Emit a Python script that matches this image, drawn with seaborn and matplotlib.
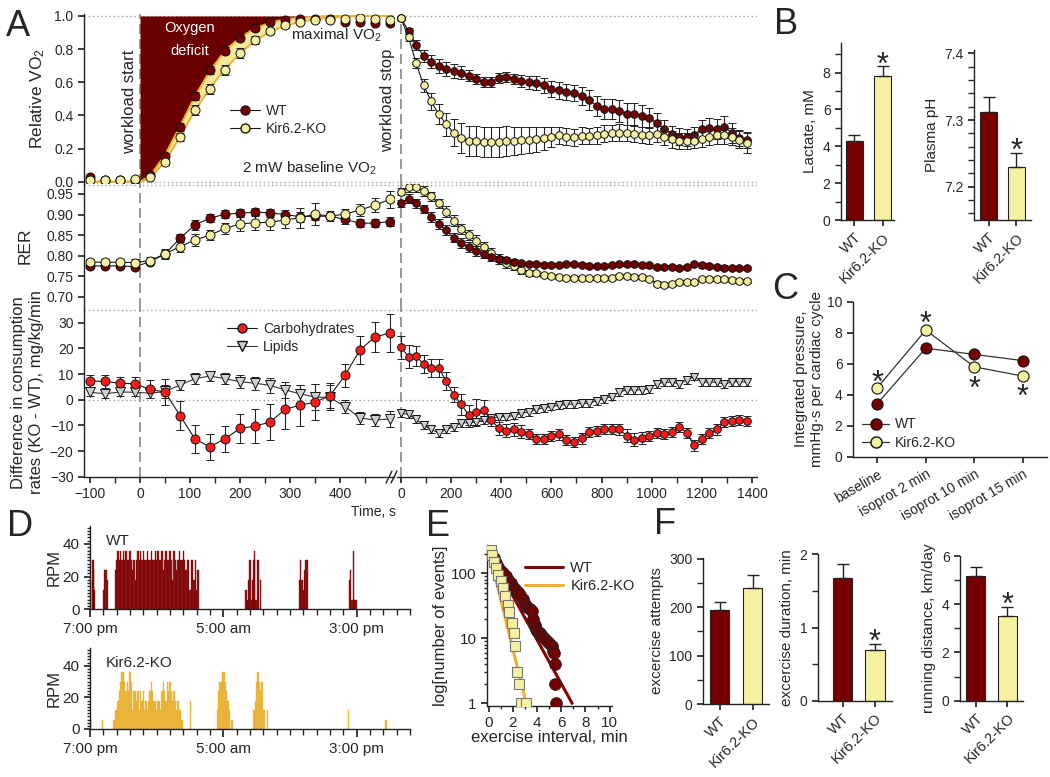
import numpy as np
import pandas as pd
import matplotlib
matplotlib.use('Agg')
import matplotlib.pyplot as plt
import matplotlib.transforms as mtransforms
from matplotlib.lines import Line2D
from matplotlib.ticker import MultipleLocator, FixedLocator, LogLocator, NullFormatter
import seaborn as sns

sns.set_theme(style='ticks')
plt.rcParams['font.family'] = ['Liberation Sans', 'DejaVu Sans']
plt.rcParams['mathtext.fontset'] = 'custom'
plt.rcParams['mathtext.rm'] = 'Liberation Sans'
plt.rcParams['mathtext.it'] = 'Liberation Sans:italic'
plt.rcParams['axes.linewidth'] = 1.0
plt.rcParams['axes.edgecolor'] = '#222222'
plt.rcParams['xtick.major.size'] = 4
plt.rcParams['ytick.major.size'] = 4
plt.rcParams['xtick.minor.size'] = 2.5
plt.rcParams['ytick.minor.size'] = 2.5
plt.rcParams['xtick.labelsize'] = 10
plt.rcParams['ytick.labelsize'] = 10

W, H = 1050, 777
WT_C = '#760000'
KO_C = '#f6f1a0'
KO_LINE = '#eeb133'

# ---------------- data: panel A ----------------
t_ex = [-100, -70, -40, -10, 20, 50, 80, 110, 140, 170, 200, 230, 260, 290, 320, 350, 380, 410, 440, 470, 500]
t_rec = [0, 30, 60, 90, 120, 150, 180, 210, 240, 270, 300, 330, 360, 390, 420, 450, 480, 510, 540, 570,
         600, 630, 660, 690, 720, 750, 780, 810, 840, 870, 900, 930, 960, 990, 1020, 1050, 1080, 1110,
         1140, 1170, 1200, 1230, 1260, 1290, 1320, 1350, 1380]

vo2_wt_ex = [0.026, 0.01, 0.01, 0.012, 0.04, 0.155, 0.33, 0.515, 0.675, 0.79, 0.87, 0.93, 0.965, 0.975,
             0.98, 0.98, 0.98, 0.965, 0.965, 0.96, 0.96]
vo2_wt_ex_err = [0.01, 0.01, 0.01, 0.01, 0.015, 0.02, 0.025, 0.025, 0.025, 0.02, 0.02, 0.02, 0.015, 0.015,
                 0.01, 0.01, 0.01, 0.01, 0.01, 0.01, 0.01]
vo2_ko_ex = [0.01, 0.008, 0.01, 0.015, 0.03, 0.12, 0.27, 0.43, 0.56, 0.675, 0.775, 0.855, 0.91, 0.945,
             0.965, 0.975, 0.975, 0.98, 0.985, 0.98, 0.975]
vo2_ko_ex_err = [0.01, 0.01, 0.01, 0.01, 0.015, 0.02, 0.025, 0.03, 0.03, 0.03, 0.03, 0.025, 0.02, 0.015,
                 0.01, 0.01, 0.01, 0.01, 0.01, 0.01, 0.01]

fit_t = [-112, 0, 20, 50, 80, 110, 140, 170, 200, 230, 260, 290, 320, 350, 380, 410, 440, 470, 508]
fit_wt = [0, 0, 0.035, 0.16, 0.335, 0.515, 0.67, 0.79, 0.87, 0.925, 0.96, 0.98, 0.99, 0.995, 1.0, 1.0, 1.0, 1.0, 1.0]
fit_ko = [0, 0, 0.02, 0.12, 0.27, 0.43, 0.565, 0.68, 0.775, 0.85, 0.905, 0.94, 0.965, 0.98, 0.99, 0.995, 1.0, 1.0, 1.0]

vo2_wt_rec = [0.986, 0.91, 0.825, 0.759, 0.724, 0.698, 0.68, 0.668, 0.658, 0.64, 0.618, 0.603, 0.603,
              0.624, 0.634, 0.622, 0.608, 0.6, 0.596, 0.582, 0.56, 0.552, 0.54, 0.535, 0.517, 0.491,
              0.459, 0.439, 0.439, 0.425, 0.41, 0.408, 0.397, 0.386, 0.354, 0.32, 0.288, 0.272, 0.268,
              0.282, 0.32, 0.326, 0.316, 0.33, 0.296, 0.264, 0.252]
vo2_wt_rec_err = [0.01, 0.02, 0.03, 0.035, 0.04, 0.04, 0.04, 0.04, 0.04, 0.035, 0.03, 0.03, 0.03, 0.03,
                  0.03, 0.03, 0.035, 0.04, 0.04, 0.045, 0.05, 0.05, 0.05, 0.05, 0.055, 0.06, 0.06, 0.06,
                  0.06, 0.065, 0.065, 0.065, 0.065, 0.06, 0.06, 0.055, 0.05, 0.05, 0.05, 0.05, 0.055,
                  0.06, 0.06, 0.065, 0.06, 0.05, 0.05]
vo2_ko_rec = [0.986, 0.871, 0.718, 0.582, 0.485, 0.409, 0.346, 0.296, 0.262, 0.248, 0.244, 0.24, 0.238,
              0.24, 0.244, 0.248, 0.25, 0.252, 0.256, 0.262, 0.272, 0.28, 0.272, 0.268, 0.278, 0.276,
              0.28, 0.29, 0.294, 0.296, 0.294, 0.288, 0.282, 0.28, 0.288, 0.272, 0.256, 0.246, 0.246,
              0.246, 0.256, 0.272, 0.28, 0.28, 0.272, 0.254, 0.236]
vo2_ko_rec_err = [0.01, 0.02, 0.03, 0.04, 0.05, 0.06, 0.07, 0.08, 0.09, 0.09, 0.09, 0.09, 0.09, 0.09,
                  0.09, 0.085, 0.08, 0.08, 0.075, 0.07, 0.06, 0.05, 0.05, 0.05, 0.05, 0.05, 0.05, 0.05,
                  0.05, 0.05, 0.05, 0.05, 0.05, 0.05, 0.05, 0.05, 0.05, 0.05, 0.05, 0.045, 0.045, 0.05,
                  0.05, 0.05, 0.05, 0.05, 0.06]

rer_wt_ex = [0.775, 0.775, 0.775, 0.773, 0.785, 0.804, 0.842, 0.875, 0.891, 0.901, 0.903, 0.906, 0.904,
             0.9, 0.895, 0.896, 0.896, 0.888, 0.879, 0.879, 0.883]
rer_wt_ex_err = [0.006, 0.006, 0.006, 0.006, 0.006, 0.01, 0.01, 0.012, 0.01, 0.01, 0.01, 0.01, 0.01,
                 0.012, 0.012, 0.01, 0.008, 0.01, 0.01, 0.01, 0.012]
rer_ko_ex = [0.784, 0.784, 0.784, 0.783, 0.788, 0.804, 0.822, 0.838, 0.85, 0.866, 0.877, 0.88, 0.881,
             0.887, 0.892, 0.901, 0.896, 0.901, 0.911, 0.923, 0.937]
rer_ko_ex_err = [0.008, 0.008, 0.008, 0.008, 0.008, 0.012, 0.014, 0.014, 0.012, 0.014, 0.016, 0.018,
                 0.018, 0.02, 0.024, 0.026, 0.012, 0.012, 0.015, 0.018, 0.02]

rer_wt_rec = [0.927, 0.939, 0.927, 0.913, 0.895, 0.877, 0.862, 0.844, 0.83, 0.822, 0.812, 0.804, 0.797,
              0.792, 0.789, 0.785, 0.783, 0.78, 0.78, 0.777, 0.777, 0.777, 0.78, 0.78, 0.777, 0.775,
              0.775, 0.775, 0.777, 0.78, 0.78, 0.779, 0.777, 0.776, 0.772, 0.772, 0.773, 0.77, 0.772,
              0.78, 0.776, 0.775, 0.773, 0.771, 0.77, 0.769, 0.77]
rer_wt_rec_err = [0.008, 0.01, 0.01, 0.01, 0.012, 0.012, 0.012, 0.012, 0.012, 0.012, 0.012, 0.01, 0.01,
                  0.008, 0.008, 0.006, 0.005, 0.005, 0.005, 0.005, 0.005, 0.005, 0.005, 0.005, 0.005,
                  0.005, 0.005, 0.005, 0.005, 0.005, 0.005, 0.005, 0.005, 0.005, 0.005, 0.005, 0.005,
                  0.005, 0.005, 0.005, 0.005, 0.005, 0.005, 0.005, 0.005, 0.005, 0.005]
rer_ko_rec = [0.956, 0.966, 0.966, 0.958, 0.944, 0.927, 0.907, 0.885, 0.865, 0.85, 0.836, 0.822, 0.807,
              0.791, 0.783, 0.775, 0.765, 0.758, 0.757, 0.753, 0.751, 0.749, 0.746, 0.746, 0.745,
              0.745, 0.745, 0.745, 0.746, 0.75, 0.75, 0.749, 0.747, 0.742, 0.732, 0.728, 0.731, 0.736,
              0.736, 0.735, 0.742, 0.742, 0.742, 0.742, 0.741, 0.739, 0.739]
rer_ko_rec_err = [0.008, 0.01, 0.012, 0.012, 0.012, 0.012, 0.013, 0.013, 0.013, 0.013, 0.013, 0.012,
                  0.012, 0.012, 0.012, 0.01, 0.01, 0.008, 0.006, 0.005, 0.005, 0.005, 0.005, 0.005,
                  0.005, 0.005, 0.005, 0.005, 0.005, 0.005, 0.005, 0.005, 0.005, 0.005, 0.005, 0.005,
                  0.005, 0.005, 0.005, 0.005, 0.005, 0.005, 0.005, 0.005, 0.005, 0.005, 0.005]

carb_ex = [7.3, 7.1, 6.4, 6.2, 4.0, 3.0, -6.2, -15.3, -18.4, -15.2, -11.2, -10.3, -8.7, -3.8, -2.1,
           -1.0, 1.6, 9.5, 19.4, 24.4, 26.0]
carb_ex_err = [2.5, 2.5, 2.5, 2.5, 3.5, 5.0, 5.5, 5.5, 5.0, 5.0, 5.5, 6.5, 7.0, 7.5, 8.0, 7.0, 5.0, 4.5,
               5.5, 6.0, 7.5]
lip_ex = [2.9, 2.3, 3.0, 2.9, 2.5, 3.2, 5.7, 8.2, 9.2, 8.2, 7.0, 6.4, 5.6, 3.8, 2.3, 1.0, 0.9, -2.7,
          -7.1, -7.9, -7.5]
lip_ex_err = [1.5, 1.5, 1.5, 1.5, 2.0, 2.5, 2.0, 2.0, 2.0, 2.0, 2.5, 2.5, 3.0, 3.0, 3.5, 5.0, 5.0, 2.5,
              2.5, 2.5, 3.0]

carb_rec = [20.4, 16.8, 17.0, 13.9, 12.5, 12.5, 7.3, 2.0, -1.8, -6.0, -4.8, -4.2, -7.9, -11.2, -12.1,
            -11.6, -12.5, -13.4, -15.2, -15.2, -14.2, -13.5, -15.7, -16.5, -15.1, -12.6, -12.2, -11.3,
            -11.3, -11.6, -14.0, -15.5, -14.9, -14.2, -12.9, -13.4, -12.5, -10.5, -12.9, -17.8, -15.2,
            -13.1, -11.6, -8.8, -8.4, -7.9, -8.4]
carb_rec_err = [4.5, 4.5, 4.0, 3.5, 3.5, 3.5, 3.5, 3.0, 4.0, 4.0, 5.0, 4.0, 2.5, 2.5, 2.5, 2.5, 2.5,
                2.0, 2.0, 2.0, 2.0, 2.0, 2.0, 2.0, 2.0, 2.0, 2.0, 2.0, 2.0, 2.0, 2.5, 2.5, 2.5, 2.0,
                2.0, 2.0, 2.0, 2.0, 2.0, 2.0, 2.0, 2.0, 2.0, 2.0, 2.0, 2.0, 2.0]
lip_rec = [-5.3, -5.7, -7.7, -9.9, -11.6, -12.9, -11.6, -10.5, -9.0, -9.0, -8.7, -7.9, -7.3, -6.6,
           -6.6, -6.2, -5.3, -4.7, -3.8, -3.1, -2.7, -2.2, -1.8, -1.7, -1.4, -1.4, -0.4, 0.4, 1.2,
           3.0, 3.8, 3.8, 3.8, 4.3, 6.1, 6.8, 6.8, 6.2, 7.7, 9.0, 6.9, 6.8, 6.8, 6.0, 7.0, 7.0, 6.8]
lip_rec_err = [1.5, 1.5, 1.5, 1.5, 1.5, 1.5, 1.5, 1.5, 1.5, 1.5, 1.5, 1.5, 1.5, 1.5, 1.5, 1.5, 1.5,
               1.5, 1.5, 1.5, 1.5, 1.5, 1.5, 1.5, 1.5, 1.5, 1.5, 1.5, 1.5, 1.5, 1.5, 1.5, 1.5, 1.5,
               1.5, 1.5, 1.5, 1.5, 1.5, 1.5, 1.5, 1.5, 1.5, 1.5, 1.5, 1.5, 1.5]

# ---------------- data: panels B, C, F ----------------
groups = ['WT', 'Kir6.2-KO']
lactate = [4.3, 7.8]
lactate_err = [0.29, 0.54]
ph = [7.312, 7.23]
ph_err = [0.022, 0.021]

c_labels = ['baseline', 'isoprot 2 min', 'isoprot 10 min', 'isoprot 15 min']
c_wt = [3.42, 7.0, 6.6, 6.2]
c_ko = [4.45, 8.17, 5.8, 5.2]
c_err = [0.15, 0.2, 0.15, 0.15]
c_star = [4.69, 8.5, 4.32, 3.78]

attempts = [195, 240]
attempts_err = [17, 26]
duration = [1.68, 0.69]
duration_err = [0.19, 0.08]
distance = [5.17, 3.51]
distance_err = [0.39, 0.39]

# ---------------- data: panel D (hours after 7:00 pm, RPM) ----------------
wt_hours = [0.18, 0.23, 0.28, 0.33, 1.0, 1.1, 1.2, 1.3,
            1.9, 2.0, 2.1, 2.2, 2.3, 2.4, 2.5, 2.6, 2.7, 2.8, 2.9,
            3.0, 3.1, 3.2, 3.3, 3.4, 3.5, 3.6, 3.7, 3.8, 3.9,
            4.0, 4.1, 4.2, 4.3, 4.4, 4.5, 4.6, 4.7, 4.8, 4.9,
            5.0, 5.1, 5.2, 5.3, 5.4, 5.5, 5.6, 5.7, 5.8, 5.9,
            6.0, 6.1, 6.2, 6.3, 6.4, 6.5, 6.6, 6.7, 6.8, 6.9,
            7.0, 7.1, 7.2, 7.3, 7.4, 7.5, 7.6, 7.7, 7.8, 7.9, 8.0, 8.1,
            11.7, 11.8, 11.9, 12.0, 12.1, 12.2, 12.3, 12.35, 12.45, 12.55, 12.65, 12.8,
            15.7, 15.8, 15.9, 16.0, 16.1, 16.2, 16.3,
            19.45, 19.55, 19.65, 19.75, 19.85, 19.95]
wt_rpm = [18, 30, 24, 12, 12, 24, 24, 18,
          24, 30, 36, 30, 36, 30, 36, 30, 36, 30, 30,
          36, 30, 24, 30, 18, 30, 36, 30, 36, 30,
          36, 30, 30, 36, 30, 30, 36, 30, 30, 36,
          30, 36, 30, 30, 36, 24, 30, 36, 30, 30,
          36, 30, 18, 36, 30, 24, 30, 36, 30, 30,
          36, 30, 24, 30, 30, 12, 30, 30, 18, 30, 12, 24,
          12, 6, 18, 30, 6, 18, 30, 36, 6, 30, 30, 18,
          18, 30, 18, 12, 24, 30, 30,
          18, 24, 6, 36, 6, 6]
ko_hours = [0.05, 0.93,
            1.8, 1.9, 2.0, 2.1, 2.2, 2.3, 2.4, 2.5, 2.6, 2.7, 2.8, 2.9,
            3.0, 3.1, 3.2, 3.3, 3.4, 3.5, 3.6, 3.7, 3.8, 3.9,
            4.0, 4.1, 4.2, 4.3, 4.4, 4.5, 4.6, 4.7, 4.8, 4.9,
            5.0, 5.1, 5.2, 5.3, 5.4, 5.5, 5.6, 5.7, 5.8, 5.9,
            6.0, 6.1, 6.2, 6.3, 6.4, 6.5, 6.6, 6.7, 6.8, 6.9,
            7.55,
            9.55, 9.65, 9.75, 9.85, 9.95, 10.05, 10.15, 10.25, 10.35, 10.45, 10.65,
            12.3, 12.4, 12.5, 12.6, 12.7, 12.8, 12.9, 13.05, 13.3,
            19.38, 22.2]
ko_rpm = [6, 6,
          6, 12, 12, 18, 24, 30, 36, 36, 30, 24, 30, 24,
          36, 30, 12, 24, 24, 18, 24, 12, 24, 18,
          24, 12, 18, 12, 18, 24, 30, 24, 18, 18,
          12, 18, 18, 12, 24, 30, 24, 18, 30, 24,
          30, 24, 18, 24, 18, 12, 18, 12, 12, 6,
          18,
          12, 24, 30, 30, 36, 36, 30, 24, 18, 12, 6,
          12, 18, 30, 36, 30, 24, 30, 12, 12,
          12, 6]

# ---------------- data: panel E ----------------
e_wt_x = [0.1, 0.4, 0.6, 0.8, 1.0, 1.2, 1.4, 1.6, 1.8, 2.0, 2.2, 2.4, 2.6, 2.8, 3.0, 3.2, 3.4, 3.6,
          3.7, 3.8, 3.9, 4.0, 4.2, 4.4, 4.6, 4.8, 5.0, 5.2, 5.3, 5.4, 5.45, 5.5, 5.6]
e_wt_y = [200, 170, 145, 125, 110, 100, 90, 80, 70, 62, 57, 52, 46, 40, 34, 30, 28, 26, 20, 16, 14,
          13, 12, 11, 10, 9, 8.5, 7.5, 6.5, 6, 4, 2, 1]
e_ko_x = [0.14, 0.3, 0.45, 0.6, 0.8, 1.0, 1.15, 1.35, 1.55, 1.7, 1.9, 2.05, 2.2, 2.3, 2.5, 2.65, 3.05]
e_ko_y = [225, 190, 150, 120, 95, 75, 60, 45, 33, 25, 17, 12, 7.5, 3, 2, 1, 1]
e_wt_fit_x = [0, 6.9]
e_wt_fit_y = [210, 1]
e_ko_fit_x = [0, 3.1]
e_ko_fit_y = [220, 1]


def box(x0, y0, x1, y1):
    return [x0 / W, 1 - y1 / H, (x1 - x0) / W, (y1 - y0) / H]


def fxy(x, y):
    return x / W, 1 - y / H


fig = plt.figure(figsize=(10.5, 7.77), dpi=100)

# ================= Panel A =================
xl_lim = (-112, 508)
xr_lim = (-16, 1420)
rows = [(14, 184, (-0.014, 1.012)), (184, 308, (0.6725, 0.9743)), (308, 477, (-30.1, 35.7))]
axA = []
for (y0, y1, yl) in rows:
    aL = fig.add_axes(box(84, y0, 394, y1))
    aR = fig.add_axes(box(397, y0, 757, y1))
    aL.set_xlim(*xl_lim); aR.set_xlim(*xr_lim)
    aL.set_ylim(*yl); aR.set_ylim(*yl)
    sns.despine(ax=aL); sns.despine(ax=aR, left=True)
    aR.set_yticks([])
    for a in (aL, aR):
        a.axvline(0, color='#888888', ls=(0, (6, 3)), lw=1.2, zorder=1)
    axA.append((aL, aR))

dot = dict(color='#a0a0a0', ls=(0, (1, 2)), lw=1.0, zorder=1)


def series(ax, x, y, e, face, marker='o', ms=6.5, lc='k', z=4):
    ax.errorbar(x, y, yerr=e, fmt=marker + '-', color=lc, mfc=face, mec='#111111', ms=ms, mew=0.7,
                lw=0.8, elinewidth=0.8, ecolor='#222222', capsize=3, capthick=0.8, zorder=z)


# VO2
aL, aR = axA[0]
for a in (aL, aR):
    a.axhline(1.0, **dot); a.axhline(0.0, **dot)
    a.spines['bottom'].set_visible(False)
    a.set_xticks([])
ft = np.array(fit_t)
aL.fill_between(ft, fit_wt, 1.0, where=ft >= 0, color='#6b0000', lw=0, zorder=1.5)
aL.fill_between(ft, fit_ko, fit_wt, color='#f8e89a', lw=0, zorder=1.6)
aL.plot(ft, fit_wt, color=KO_LINE, lw=1.4, zorder=1.7)
aL.plot(ft, fit_ko, color=KO_LINE, lw=1.4, zorder=1.7)
series(aL, t_ex, vo2_wt_ex, vo2_wt_ex_err, WT_C, lc='none', z=4)
series(aL, t_ex, vo2_ko_ex, vo2_ko_ex_err, KO_C, lc='none', z=5)
series(aR, t_rec, vo2_wt_rec, vo2_wt_rec_err, WT_C, ms=5.5, z=4)
series(aR, t_rec, vo2_ko_rec, vo2_ko_rec_err, KO_C, ms=5.5, z=5)
aL.yaxis.set_major_locator(MultipleLocator(0.2))
aL.yaxis.set_major_formatter(matplotlib.ticker.FormatStrFormatter('%.1f'))
aL.set_ylabel('Relative VO$_\\mathregular{2}$', fontsize=12.5)
aL.yaxis.set_label_coords(-0.12, 0.5)
aL.text(100, 0.93, 'Oxygen', color='white', ha='center', va='center', fontsize=10.5, zorder=6)
aL.text(100, 0.79, 'deficit', color='white', ha='center', va='center', fontsize=10.5, zorder=6)
aL.text(392, 0.885, 'maximal VO$_\\mathregular{2}$', ha='center', va='center', fontsize=11, zorder=6)
aL.text(-20, 0.48, 'workload start', rotation=90, ha='center', va='center', fontsize=12, zorder=6)
aL.text(496, 0.49, 'workload stop', rotation=90, ha='center', va='center', fontsize=12, zorder=6)
aL.text(338, 0.083, '2 mW baseline VO$_\\mathregular{2}$', ha='center', va='center', fontsize=11, zorder=6)
hA = [Line2D([], [], color='k', lw=0.8, marker='o', ms=6.5, mfc=WT_C, mec='k'),
      Line2D([], [], color='k', lw=0.8, marker='o', ms=6.5, mfc=KO_C, mec='k')]
aL.legend(hA, groups, loc='center left', bbox_to_anchor=(0.43, 0.375), frameon=False, fontsize=10,
          handlelength=2.2, handletextpad=0.4, labelspacing=0.3)

# RER
aL, aR = axA[1]
for a in (aL, aR):
    a.axhline(0.972, **dot)
    a.spines['bottom'].set_visible(False)
    a.set_xticks([])
series(aL, t_ex, rer_wt_ex, rer_wt_ex_err, WT_C)
series(aL, t_ex, rer_ko_ex, rer_ko_ex_err, KO_C)
series(aR, t_rec, rer_ko_rec, rer_ko_rec_err, KO_C, ms=5.5)
series(aR, t_rec, rer_wt_rec, rer_wt_rec_err, WT_C, ms=5.5)
aL.set_yticks([0.70, 0.75, 0.80, 0.85, 0.90, 0.95])
aL.yaxis.set_major_formatter(matplotlib.ticker.FormatStrFormatter('%.2f'))
aL.set_ylabel('RER', fontsize=12.5)
aL.yaxis.set_label_coords(-0.165, 0.5)

# differences
aL, aR = axA[2]
for a in (aL, aR):
    a.axhline(35, **dot); a.axhline(0, **dot)
series(aL, t_ex, lip_ex, lip_ex_err, '#d0d0d0', marker='v', lc='#333333')
series(aL, t_ex, carb_ex, carb_ex_err, '#ff1a1a')
series(aR, t_rec, lip_rec, lip_rec_err, '#d0d0d0', marker='v', ms=5.5, lc='#333333')
series(aR, t_rec, carb_rec, carb_rec_err, '#ff1a1a', ms=5.5)
aL.set_yticks([-30, -20, -10, 0, 10, 20, 30])
aL.set_xticks([-100, 0, 100, 200, 300, 400])
aL.xaxis.set_minor_locator(FixedLocator([-50, 50, 150, 250, 350, 450]))
aR.set_xticks([0, 200, 400, 600, 800, 1000, 1200, 1400])
aR.xaxis.set_minor_locator(FixedLocator([100, 300, 500, 700, 900, 1100, 1300]))
for a in (aL, aR):
    a.tick_params(axis='x', which='minor', length=4)
aL.set_ylabel('Difference in consumption\nrates (KO - WT), mg/kg/min', fontsize=12)
aL.yaxis.set_label_coords(-0.13, 0.5)
hD = [Line2D([], [], color='k', lw=0.8, marker='o', ms=6.5, mfc='#ff1a1a', mec='k'),
      Line2D([], [], color='#333333', lw=0.8, marker='v', ms=6.5, mfc='#d0d0d0', mec='#111111')]
aL.legend(hD, ['Carbohydrates', 'Lipids'], loc='upper left', bbox_to_anchor=(0.42, 0.99),
          frameon=False, fontsize=10, handlelength=2.2, handletextpad=0.4, labelspacing=0.3)
fig.text(*fxy(396, 512), 'Time, s', ha='right', va='center', fontsize=10)
for dx in (0, 5):
    fig.add_artist(Line2D([(386 + dx) / W, (392 + dx) / W], [1 - 483 / H, 1 - 471 / H],
                          color='#222222', lw=1.0, transform=fig.transFigure))

# ================= Panel B =================


def bars(ax, vals, errs, xlim, ylim, star=None):
    d = pd.DataFrame({'group': groups, 'value': vals})
    sns.barplot(data=d, x='group', y='value', hue='group', palette=[WT_C, KO_C], width=0.6,
                saturation=1, edgecolor='#222222', linewidth=0.8, legend=False, ax=ax)
    ax.errorbar([0, 1], vals, yerr=[[0, 0], errs], fmt='none', ecolor='#222222', elinewidth=1.0,
                capsize=4, capthick=1.0)
    ax.set_xlim(*xlim); ax.set_ylim(*ylim)
    ax.set_xlabel(''); sns.despine(ax=ax)
    ax.set_xticks([0, 1])
    ax.set_xticklabels(groups, rotation=45, ha='right', rotation_mode='anchor', fontsize=10.5)
    if star is not None:
        ax.text(1, star, '*', ha='center', va='center', fontsize=22)


axB1 = fig.add_axes(box(841, 43, 894, 220))
bars(axB1, lactate, lactate_err, (-0.48, 1.41), (0, 9.6), star=8.34)
axB1.set_yticks([0, 2, 4, 6, 8])
axB1.yaxis.set_minor_locator(FixedLocator([1, 3, 5, 7, 9]))
axB1.set_ylabel('Lactate, mM', fontsize=11)

axB2 = fig.add_axes(box(974, 50, 1031, 220))
bars(axB2, ph, ph_err, (-0.52, 1.52), (7.15, 7.405), star=7.252)
axB2.set_yticks([7.2, 7.3, 7.4])
axB2.yaxis.set_minor_locator(MultipleLocator(0.02))
axB2.set_ylabel('Plasma pH', fontsize=11)

# ================= Panel C =================
axC = fig.add_axes(box(853, 301.7, 1047, 456.7))
cx = [0, 1, 2, 3]
axC.errorbar(cx, c_wt, yerr=c_err, fmt='o-', color='#333333', mfc=WT_C, mec='#111111', ms=8, mew=0.8,
             lw=0.9, capsize=3, zorder=3, label='WT')
axC.errorbar(cx, c_ko, yerr=c_err, fmt='o-', color='#333333', mfc=KO_C, mec='#111111', ms=8, mew=0.8,
             lw=0.9, capsize=3, zorder=4, label='Kir6.2-KO')
for xi, ys in zip(cx, c_star):
    axC.text(xi, ys, '*', ha='center', va='center', fontsize=22)
axC.set_xlim(-0.5, 3.5); axC.set_ylim(0, 10)
axC.set_yticks([0, 2, 4, 6, 8, 10])
axC.set_xticks(cx)
axC.set_xticklabels(c_labels, rotation=30, ha='right', rotation_mode='anchor', fontsize=10)
sns.despine(ax=axC)
axC.set_ylabel('Integrated pressure,\nmmHg\u00b7s per cardiac cycle', fontsize=11, labelpad=2)
hC = [Line2D([], [], color='#333333', lw=0.9, marker='o', ms=8, mfc=WT_C, mec='#111111'),
      Line2D([], [], color='#333333', lw=0.9, marker='o', ms=8, mfc=KO_C, mec='#111111')]
axC.legend(hC, groups, loc='center left', bbox_to_anchor=(-0.02, 0.15), frameon=False, fontsize=10,
           handlelength=2.0, handletextpad=0.4, labelspacing=0.3)

# ================= Panel D =================
shift = mtransforms.ScaledTranslation(11 / 100, 0, fig.dpi_scale_trans)
for (y0, y1, hrs, rpm, col, name) in [(526, 609.3, wt_hours, wt_rpm, '#7d0000', 'WT'),
                                     (648.3, 729, ko_hours, ko_rpm, '#eab02e', 'Kir6.2-KO')]:
    ax = fig.add_axes(box(90, y0, 410, y1))
    ax.bar(hrs, rpm, width=0.1, color=col, edgecolor=col, linewidth=0.3, alpha=0.9)
    ax.set_xlim(0, 24); ax.set_ylim(0, 51)
    ax.set_yticks([0, 20, 40])
    ax.yaxis.set_minor_locator(MultipleLocator(2))
    ax.set_xticks([0, 10, 20])
    ax.set_xticklabels(['7:00 pm', '5:00 am', '3:00 pm'], fontsize=11)
    for lab in ax.get_xticklabels():
        lab.set_transform(lab.get_transform() + shift)
    ax.xaxis.set_minor_locator(MultipleLocator(1))
    ax.tick_params(axis='x', which='major', length=6)
    ax.tick_params(axis='x', which='minor', length=4)
    ax.tick_params(axis='y', labelsize=11)
    sns.despine(ax=ax)
    ax.set_ylabel('RPM', fontsize=12, labelpad=1)
    ax.text(0.05, 0.82, name, transform=ax.transAxes, fontsize=11, va='center')

# ================= Panel E =================
axE = fig.add_axes(box(487, 545, 612, 706))
axE.set_yscale('log')
sns.lineplot(x=e_wt_fit_x, y=e_wt_fit_y, color='#8b0000', lw=2.2, ax=axE, label='WT')
sns.lineplot(x=e_ko_fit_x, y=e_ko_fit_y, color=KO_LINE, lw=2.2, ax=axE, label='Kir6.2-KO')
sns.scatterplot(x=e_wt_x, y=e_wt_y, color=WT_C, edgecolor='#222222', s=70, linewidth=0.7, ax=axE,
                zorder=3)
sns.scatterplot(x=e_ko_x, y=e_ko_y, color=KO_C, marker='s', edgecolor='#777777', s=45, linewidth=0.8,
                ax=axE, zorder=4)
axE.set_xlim(-0.15, 10.2); axE.set_ylim(0.91, 273)
axE.set_xticks([0, 2, 4, 6, 8, 10])
axE.xaxis.set_minor_locator(FixedLocator([1, 3, 5, 7, 9]))
axE.set_yticks([1, 10, 100])
axE.set_yticklabels(['1', '10', '100'])
axE.yaxis.set_minor_locator(LogLocator(base=10, subs=np.arange(2, 10)))
axE.yaxis.set_minor_formatter(NullFormatter())
axE.tick_params(axis='both', labelsize=11)
sns.despine(ax=axE)
axE.set_xlabel('exercise interval, min', fontsize=12, labelpad=0)
axE.set_ylabel('log[number of events]', fontsize=12, labelpad=2)
axE.legend(loc='center left', bbox_to_anchor=(0.2, 0.8), frameon=False, fontsize=10.5,
           handlelength=2.6, handletextpad=0.5, labelspacing=0.3)

# ================= Panel F =================
axF1 = fig.add_axes(box(703, 558, 769, 704))
bars(axF1, attempts, attempts_err, (-0.5, 1.5), (0, 302))
axF1.set_yticks([0, 100, 200, 300])
axF1.yaxis.set_minor_locator(FixedLocator([50, 150, 250]))
axF1.set_ylabel('excercise attempts', fontsize=11)

axF2 = fig.add_axes(box(818, 554.3, 892, 700.7))
bars(axF2, duration, duration_err, (-0.76, 1.53), (0, 2), star=0.79)
axF2.set_yticks([0, 1, 2])
axF2.yaxis.set_minor_locator(FixedLocator([0.5, 1.5]))
axF2.set_ylabel('excercise duration, min', fontsize=11)

axF3 = fig.add_axes(box(960, 556, 1023, 700.7))
bars(axF3, distance, distance_err, (-0.5, 1.5), (0, 6), star=3.93)
axF3.set_yticks([0, 2, 4, 6])
axF3.yaxis.set_minor_locator(FixedLocator([1, 3, 5]))
axF3.set_ylabel('running distance, km/day', fontsize=11)

for ax in (axB1, axB2, axF1, axF2, axF3):
    ax.tick_params(axis='y', which='minor', length=4)

# panel letters
for lab, (x, y) in {'A': (18, 26), 'B': (786, 24), 'C': (785, 289), 'D': (20, 526),
                    'E': (438, 526), 'F': (665, 525)}.items():
    fig.text(*fxy(x, y), lab, fontsize=26, ha='center', va='center')

fig.savefig('out.png', dpi=100)
